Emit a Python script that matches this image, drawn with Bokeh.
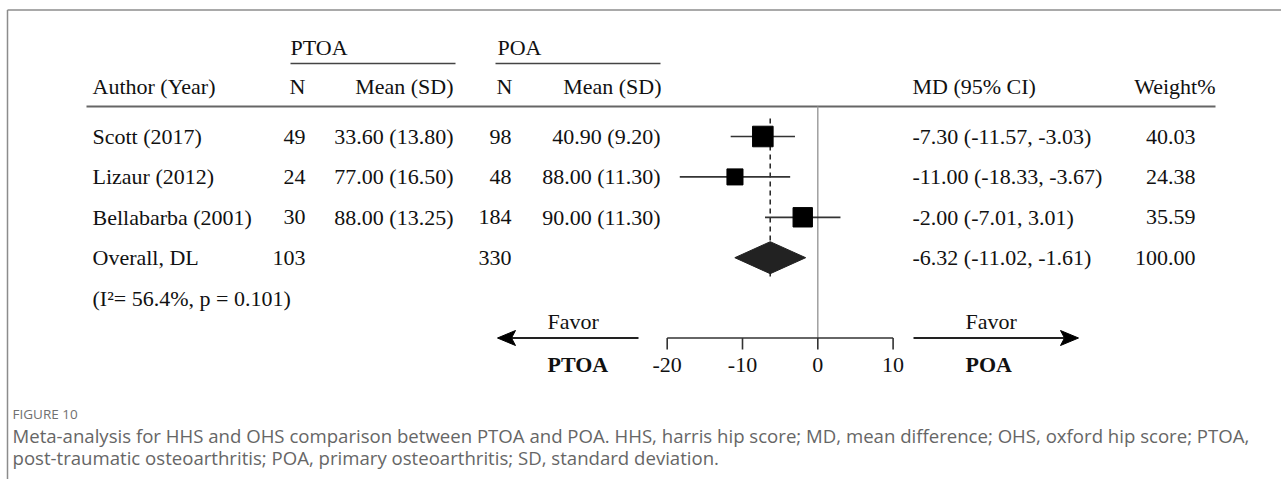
import math
from bokeh.plotting import figure
from bokeh.models import Range1d, ColumnDataSource
from bokeh.core.properties import value
from bokeh.embed import file_html
from bokeh.resources import INLINE

# ---------------- data ----------------
authors = ["Scott (2017)", "Lizaur (2012)", "Bellabarba (2001)"]
ptoa_n = [49, 24, 30]
ptoa_mean = [33.60, 77.00, 88.00]
ptoa_sd = [13.80, 16.50, 13.25]
poa_n = [98, 48, 184]
poa_mean = [40.90, 88.00, 90.00]
poa_sd = [9.20, 11.30, 11.30]
md = [-7.30, -11.00, -2.00]
ci_low = [-11.57, -18.33, -7.01]
ci_high = [-3.03, -3.67, 3.01]
weight = [40.03, 24.38, 35.59]

overall_label = "Overall, DL"
overall_ptoa_n = 103
overall_poa_n = 330
overall_md = -6.32
overall_low = -11.02
overall_high = -1.61
overall_weight = 100.00
i_squared = 56.4
p_het = 0.101

axis_ticks = [-20, -10, 0, 10]

caption_title = "FIGURE 10"
caption_lines = [
    "Meta-analysis for HHS and OHS comparison between PTOA and POA. HHS, harris hip score; MD, mean difference; OHS, oxford hip score; PTOA,",
    "post-traumatic osteoarthritis; POA, primary osteoarthritis; SD, standard deviation.",
]

# ---------------- layout (pixels) ----------------
W, H = 1281, 479
ZERO_PX, PX_PER_UNIT = 817.3, 7.53
X_AUTHOR, X_PN, X_PM, X_QN, X_QM = 92, 305, 453, 511, 660
X_MD, X_W, X_WH = 912, 1195, 1215
Y_GROUP, Y_GROUP_LINE, Y_HEAD, Y_HEAD_LINE = 47, 63, 86, 106
ROW0, ROW_STEP = 136, 40.4
Y_AXIS, TICK_LEN, Y_TICKLAB = 337.5, 11.5, 364
Y_FAVOR, Y_SIDE = 321, 364

SERIF = value("Liberation Serif")
SANS = value("Open Sans")
FS = "22px"

p = figure(width=W, height=H, x_range=Range1d(0, W), y_range=Range1d(H, 0),
           x_axis_type=None, y_axis_type=None, min_border=0,
           output_backend="svg", toolbar_location=None,
           background_fill_color="white", border_fill_color="white")
p.outline_line_color = None
p.grid.visible = False
p.extra_x_ranges = {"md": Range1d(-ZERO_PX / PX_PER_UNIT, (W - ZERO_PX) / PX_PER_UNIT)}


def txt(xs, ys, texts, align="left", size=FS, font=SERIF, color="#111111", style="normal", xr="default"):
    src = ColumnDataSource(dict(x=list(xs), y=list(ys), t=list(texts)))
    p.text("x", "y", text="t", source=src, text_align=align, text_baseline="middle",
           text_font=font, text_font_size=size, text_color=color, text_font_style=style,
           x_range_name=xr)


def row_y(i):
    return ROW0 + ROW_STEP * i


# frame border
p.segment(x0=[7, 7], y0=[9.5, 9.5], x1=[W, 7], y1=[9.5, H], line_color="#8c8c8c", line_width=1.5)

# headers
txt([X_PN - 15, X_QN - 14], [Y_GROUP, Y_GROUP], ["PTOA", "POA"])
p.segment(x0=[X_PN - 15, X_QN - 16], y0=[Y_GROUP_LINE] * 2, x1=[X_PM + 2, X_QM], y1=[Y_GROUP_LINE] * 2,
          line_color="#444444", line_width=1.5)
txt([X_AUTHOR], [Y_HEAD], ["Author (Year)"])
txt([X_PN, X_PM, X_QN + 1, X_QM + 1], [Y_HEAD] * 4, ["N", "Mean (SD)", "N", "Mean (SD)"], align="right")
txt([X_MD], [Y_HEAD], ["MD (95% CI)"])
txt([X_WH], [Y_HEAD], ["Weight%"], align="right")
p.segment(x0=[X_AUTHOR - 6], y0=[Y_HEAD_LINE], x1=[X_WH], y1=[Y_HEAD_LINE], line_color="#666666", line_width=2)

# study rows
n = len(authors)
ys = [row_y(i) for i in range(n)]
y_over = row_y(n)
y_het = row_y(n + 1)

txt([X_AUTHOR] * (n + 2), ys + [y_over, y_het],
    authors + [overall_label, f"(I\u00b2= {i_squared}%, p = {p_het})"])
txt([X_PN] * (n + 1), ys + [y_over], [str(v) for v in ptoa_n] + [str(overall_ptoa_n)], align="right")
txt([X_PM] * n, ys, [f"{m:.2f} ({s:.2f})" for m, s in zip(ptoa_mean, ptoa_sd)], align="right")
txt([X_QN] * (n + 1), ys + [y_over], [str(v) for v in poa_n] + [str(overall_poa_n)], align="right")
txt([X_QM] * n, ys, [f"{m:.2f} ({s:.2f})" for m, s in zip(poa_mean, poa_sd)], align="right")
txt([X_MD] * (n + 1), ys + [y_over],
    [f"{m:.2f} ({l:.2f}, {h:.2f})" for m, l, h in zip(md + [overall_md], ci_low + [overall_low], ci_high + [overall_high])])
txt([X_W] * (n + 1), ys + [y_over], [f"{w:.2f}" for w in weight + [overall_weight]], align="right")

# forest plot
p.segment(x0=[0], y0=[Y_HEAD_LINE], x1=[0], y1=[Y_AXIS], x_range_name="md",
          line_color="#9a9a9a", line_width=1.4)
p.segment(x0=[overall_md], y0=[ROW0 - 18], x1=[overall_md], y1=[y_over + 20], x_range_name="md",
          line_color="#222222", line_width=1.5, line_dash="5 4")
p.segment(x0=ci_low, y0=ys, x1=ci_high, y1=ys, x_range_name="md", line_color="#333333", line_width=1.7)
p.scatter(x=md, y=ys, size=[3.25 * math.sqrt(w) for w in weight], marker="square",
          fill_color="black", line_color="black", x_range_name="md")
half = 16
p.patch(x=[overall_low, overall_md, overall_high, overall_md],
        y=[y_over, y_over - half, y_over, y_over + half], x_range_name="md",
        fill_color="#222222", line_color="#222222")

# axis (bracket style)
p.segment(x0=[min(axis_ticks)], y0=[Y_AXIS], x1=[max(axis_ticks)], y1=[Y_AXIS], x_range_name="md",
          line_color="#333333", line_width=1.6)
p.segment(x0=axis_ticks, y0=[Y_AXIS] * len(axis_ticks), x1=axis_ticks, y1=[Y_AXIS + TICK_LEN] * len(axis_ticks),
          x_range_name="md", line_color="#333333", line_width=1.6)
txt(axis_ticks, [Y_TICKLAB] * len(axis_ticks), [str(t) for t in axis_ticks], align="center", xr="md")

# favor arrows
LA_TIP, LA_END = 497, 638
RA_START, RA_TIP = 913, 1078
HL, HW, NOTCH = 18, 7.5, 4
p.segment(x0=[LA_TIP + HL - NOTCH, RA_START], y0=[Y_AXIS] * 2, x1=[LA_END, RA_TIP - HL + NOTCH], y1=[Y_AXIS] * 2,
          line_color="#222222", line_width=1.8)
p.patches(xs=[[LA_TIP, LA_TIP + HL, LA_TIP + HL - NOTCH, LA_TIP + HL],
              [RA_TIP, RA_TIP - HL, RA_TIP - HL + NOTCH, RA_TIP - HL]],
          ys=[[Y_AXIS, Y_AXIS - HW, Y_AXIS, Y_AXIS + HW]] * 2,
          fill_color="black", line_color="black")
txt([547, 965], [Y_FAVOR] * 2, ["Favor", "Favor"])
txt([547, 965], [Y_SIDE] * 2, ["PTOA", "POA"], style="bold")

# caption
txt([12], [413], [caption_title], font=SANS, size="13.5px", color="#707070")
txt([12, 12], [435, 457], caption_lines, font=SANS, size="18.6px", color="#666666")

open("out.html", "w").write(file_html(p, INLINE))
